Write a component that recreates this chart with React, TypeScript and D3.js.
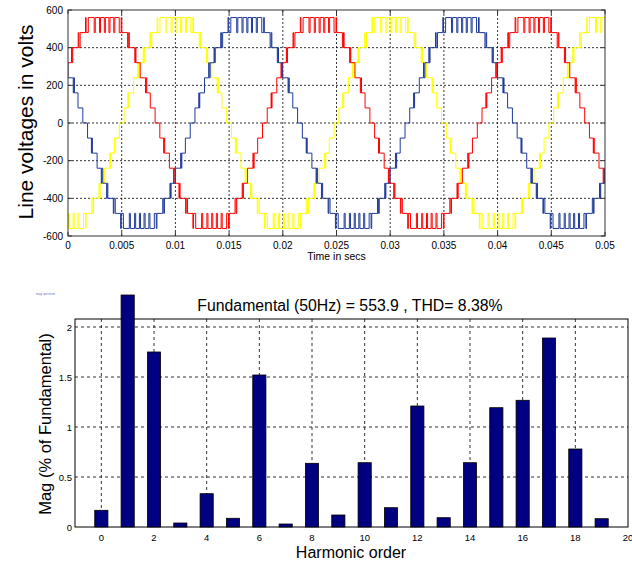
import * as d3 from 'd3';
import { useRef, useEffect } from 'react';

// ---- top panel data ----
// one positive half cycle of the staircase line voltage
// [ms after the rising zero crossing, volts]
const halfCycle: [number, number][] = [
  [0, 0], [0.22, 80],
  [0.58, 160], [0.62, 80], [0.67, 160],
  [1.11, 240],
  [1.5, 320], [1.55, 240], [1.64, 320],
  [2.0, 400], [2.05, 320], [2.11, 400],
  [2.62, 480], [2.68, 400], [2.8, 480],
  [3.3, 560], [3.36, 480], [3.56, 560],
  [4.11, 480], [4.21, 560], [4.6, 480], [4.7, 560], [5.05, 480], [5.15, 560],
  [5.48, 480], [5.58, 560], [5.93, 480], [6.03, 560],
  [6.44, 480], [6.62, 560], [6.68, 480],
  [7.22, 400], [7.32, 480], [7.38, 400],
  [7.89, 320], [7.95, 400], [8.0, 320],
  [8.39, 240],
  [8.89, 160], [8.95, 240], [9.0, 160],
  [9.33, 80],
  [9.78, 0],
];
const halfPeriodMs = 10;
const phaseColors = ['#ffff00', '#ff0000', '#1f3a99'];
const phaseZeroMs = [5, -1.67, 11.6]; // rising zero crossing of yellow, red, blue
const voltTicks = [-600, -400, -200, 0, 200, 400, 600];
const timeTicks = [0, 0.005, 0.01, 0.015, 0.02, 0.025, 0.03, 0.035, 0.04, 0.045, 0.05];

// ---- bottom panel data ----
const harmonics = [0, 1, 2, 3, 4, 5, 6, 7, 8, 9, 10, 11, 12, 13, 14, 15, 16, 17, 18, 19];
const magnitudes = [0.167, 2.32, 1.75, 0.04, 0.333, 0.087, 1.52, 0.03, 0.637, 0.12,
  0.643, 0.193, 1.21, 0.093, 0.643, 1.193, 1.267, 1.89, 0.78, 0.083];
const magTicks = [0, 0.5, 1, 1.5, 2];
const orderTicks = [0, 2, 4, 6, 8, 10, 12, 14, 16, 18, 20];

const FONT = 'Liberation Sans, Arial, sans-serif';

function buildTrace(zero: number): [number, number][] {
  const pts: [number, number][] = [];
  for (let k = -3; k <= 6; k++) {
    const s = k % 2 === 0 ? 1 : -1;
    halfCycle.forEach(([t, v]) => pts.push([(zero + k * halfPeriodMs + t) / 1000, s * v]));
  }
  return pts;
}

function App() {
  const svgRef = useRef<SVGSVGElement>(null);

  useEffect(() => {
    const svg = d3.select(svgRef.current);
    svg.selectAll('*').remove();

    // ===== top: line voltages =====
    const top = { left: 68, right: 605, top: 10, bottom: 236 };
    const x = d3.scaleLinear().domain([0, 0.05]).range([top.left, top.right]);
    const y = d3.scaleLinear().domain([-600, 600]).range([top.bottom, top.top]);

    const g1 = svg.append('g');

    // grid
    g1.selectAll('.vg').data(timeTicks.slice(1, -1)).enter().append('line')
      .attr('x1', d => x(d)).attr('x2', d => x(d))
      .attr('y1', top.top).attr('y2', top.bottom)
      .attr('stroke', '#000').attr('stroke-width', 0.8).attr('stroke-dasharray', '2,2');
    g1.selectAll('.hg').data(voltTicks.slice(1, -1)).enter().append('line')
      .attr('x1', top.left).attr('x2', top.right)
      .attr('y1', d => y(d)).attr('y2', d => y(d))
      .attr('stroke', '#000').attr('stroke-width', 0.8).attr('stroke-dasharray', '2,2');

    svg.append('clipPath').attr('id', 'topclip').append('rect')
      .attr('x', top.left).attr('y', top.top - 2)
      .attr('width', top.right - top.left).attr('height', top.bottom - top.top + 4);

    const line = d3.line<[number, number]>()
      .x(d => x(d[0])).y(d => y(d[1]))
      .curve(d3.curveStepAfter);

    phaseZeroMs.forEach((z, i) => {
      g1.append('path')
        .attr('d', line(buildTrace(z)))
        .attr('fill', 'none')
        .attr('stroke', phaseColors[i])
        .attr('stroke-width', 1)
        .attr('clip-path', 'url(#topclip)');
    });

    // frame and ticks
    g1.append('rect')
      .attr('x', top.left).attr('y', top.top)
      .attr('width', top.right - top.left).attr('height', top.bottom - top.top)
      .attr('fill', 'none').attr('stroke', '#333').attr('stroke-width', 1);
    timeTicks.forEach(t => {
      g1.append('line').attr('x1', x(t)).attr('x2', x(t)).attr('y1', top.bottom).attr('y2', top.bottom - 4).attr('stroke', '#333');
      g1.append('line').attr('x1', x(t)).attr('x2', x(t)).attr('y1', top.top).attr('y2', top.top + 4).attr('stroke', '#333');
    });
    voltTicks.forEach(v => {
      g1.append('line').attr('x1', top.left).attr('x2', top.left + 4).attr('y1', y(v)).attr('y2', y(v)).attr('stroke', '#333');
      g1.append('line').attr('x1', top.right).attr('x2', top.right - 4).attr('y1', y(v)).attr('y2', y(v)).attr('stroke', '#333');
    });

    g1.selectAll('.xl').data(timeTicks).enter().append('text')
      .attr('x', d => x(d)).attr('y', 249)
      .attr('text-anchor', 'middle').attr('font-family', FONT).attr('font-size', 10)
      .text(d => String(d));
    g1.selectAll('.yl').data(voltTicks).enter().append('text')
      .attr('x', 63).attr('y', d => y(d) + 3.5)
      .attr('text-anchor', 'end').attr('font-family', FONT).attr('font-size', 10)
      .text(d => String(d));

    g1.append('text')
      .attr('x', (top.left + top.right) / 2).attr('y', 260)
      .attr('text-anchor', 'middle').attr('font-family', FONT).attr('font-size', 10.5)
      .text('Time in secs');
    g1.append('text')
      .attr('transform', 'translate(33,122) rotate(-90)')
      .attr('text-anchor', 'middle').attr('font-family', FONT).attr('font-size', 21)
      .text('Line voltages in volts');

    // ===== bottom: harmonic spectrum =====
    const bot = { left: 75, right: 628, top: 319, bottom: 527 };
    const bx = d3.scaleLinear().domain([-1, 20]).range([bot.left, bot.right]);
    const by = d3.scaleLinear().domain([0, 2.08]).range([bot.bottom, bot.top]);
    const barW = bx(0.5) - bx(0);

    const g2 = svg.append('g');

    g2.append('text')
      .attr('x', 36).attr('y', 295)
      .attr('font-family', FONT).attr('font-size', 3).attr('fill', '#6a6ad0')
      .text('mag spectrum');

    g2.selectAll('.vg').data(orderTicks.slice(0, -1)).enter().append('line')
      .attr('x1', d => bx(d)).attr('x2', d => bx(d))
      .attr('y1', bot.top).attr('y2', bot.bottom)
      .attr('stroke', '#000').attr('stroke-width', 0.8).attr('stroke-dasharray', '3,3');
    g2.selectAll('.hg').data(magTicks.slice(1)).enter().append('line')
      .attr('x1', bot.left).attr('x2', bot.right)
      .attr('y1', d => by(d)).attr('y2', d => by(d))
      .attr('stroke', '#000').attr('stroke-width', 0.8).attr('stroke-dasharray', '3,3');

    g2.append('rect')
      .attr('x', bot.left).attr('y', bot.top)
      .attr('width', bot.right - bot.left).attr('height', bot.bottom - bot.top)
      .attr('fill', 'none').attr('stroke', '#000').attr('stroke-width', 1);

    g2.selectAll('.bar').data(harmonics).enter().append('rect')
      .attr('x', d => bx(d) - barW / 2)
      .attr('y', (d, i) => by(magnitudes[i]))
      .attr('width', barW)
      .attr('height', (d, i) => by(0) - by(magnitudes[i]))
      .attr('fill', '#000080').attr('stroke', '#000').attr('stroke-width', 0.8);

    g2.selectAll('.xl').data(orderTicks).enter().append('text')
      .attr('x', d => bx(d)).attr('y', 541)
      .attr('text-anchor', 'middle').attr('font-family', FONT).attr('font-size', 9.5)
      .text(d => String(d));
    g2.selectAll('.yl').data(magTicks).enter().append('text')
      .attr('x', 72).attr('y', d => by(d) + 3.5)
      .attr('text-anchor', 'end').attr('font-family', FONT).attr('font-size', 9.5)
      .text(d => String(d));

    g2.append('text')
      .attr('x', 350).attr('y', 311)
      .attr('text-anchor', 'middle').attr('font-family', FONT).attr('font-size', 15.8)
      .text('Fundamental (50Hz) = 553.9 , THD= 8.38%');
    g2.append('text')
      .attr('x', 351).attr('y', 558)
      .attr('text-anchor', 'middle').attr('font-family', FONT).attr('font-size', 16)
      .text('Harmonic order');
    g2.append('text')
      .attr('transform', 'translate(51,424) rotate(-90)')
      .attr('text-anchor', 'middle').attr('font-family', FONT).attr('font-size', 16.5)
      .text('Mag (% of Fundamental)');
  }, []);

  return (
    <svg ref={svgRef} width={632} height={565}
      style={{ position: 'absolute', left: 0, top: 0, background: '#fff' }} />
  );
}

export default App;
